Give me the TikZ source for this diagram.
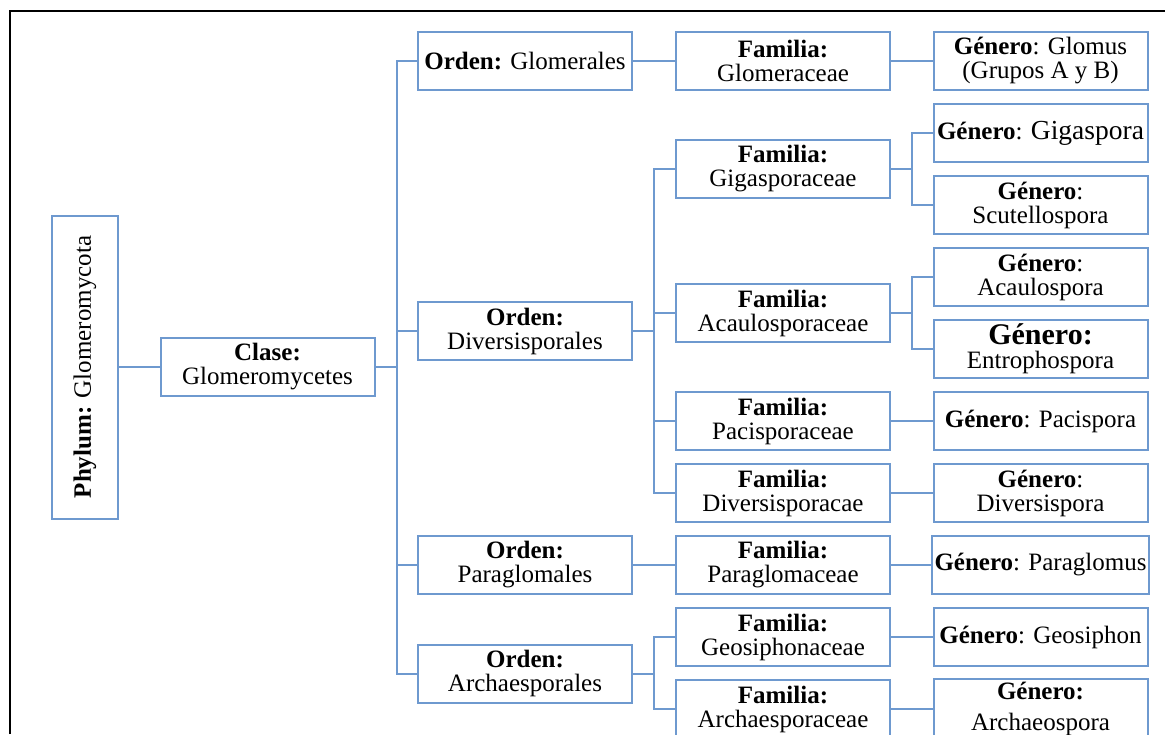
\documentclass[tikz,border=0pt]{standalone}
\usepackage{fontspec}
\setmainfont{Liberation Serif}
\definecolor{smBlue}{HTML}{6E99CF}
\usetikzlibrary{positioning}

\begin{document}
\begin{tikzpicture}[x=0.4pt, y=-0.4pt,
  box/.style={draw=smBlue, line width=0.8pt, minimum width=85.6pt, minimum height=23.2pt, align=center, inner sep=1pt, font=\fontsize{10}{9.6}\selectfont},
  link/.style={draw=smBlue, line width=0.8pt}
]
  \useasboundingbox (0,0) rectangle (1165,734);
  \clip (0,0) rectangle (1165,734);
  \draw[line width=0.8pt] (10,734) -- (10,10.5) -- (1165,10.5);

  \node[box, rotate=90, minimum width=121.2pt, minimum height=26.4pt] (phylum) at (85,367) {\textbf{Phylum:} Glomeromycota};
  \node[box] (clase) at (267.5,367) {\textbf{Clase:}\\Glomeromycetes};

  \node[box] (oGlom) at (525,61) {\textbf{Orden:} Glomerales};
  \node[box] (oDiv) at (525,331) {\textbf{Orden:}\\Diversisporales};
  \node[box] (oPara) at (525,565) {\textbf{Orden:}\\Paraglomales};
  \node[box] (oArch) at (525,673.5) {\textbf{Orden:}\\Archaesporales};

  \node[box] (fGlom) at (783,61) {\textbf{Familia:}\\Glomeraceae};
  \node[box] (fGiga) at (783,169) {\textbf{Familia:}\\Gigasporaceae};
  \node[box] (fAcau) at (783,313) {\textbf{Familia:}\\Acaulosporaceae};
  \node[box] (fPaci) at (783,421) {\textbf{Familia:}\\Pacisporaceae};
  \node[box] (fDiv) at (783,493) {\textbf{Familia:}\\Diversisporacae};
  \node[box] (fPara) at (783,565) {\textbf{Familia:}\\Paraglomaceae};
  \node[box] (fGeo) at (783,637) {\textbf{Familia:}\\Geosiphonaceae};
  \node[box] (fArch) at (783,709) {\textbf{Familia:}\\Archaesporaceae};

  \node[box] (gGlom) at (1040.5,61) {\textbf{Género}: Glomus\\(Grupos A y B)};
  \node[box] (gGiga) at (1040.5,133) {\textbf{Género}: {\fontsize{11}{11}\selectfont Gigaspora}};
  \node[box] (gScut) at (1040.5,205) {\textbf{Género}:\\Scutellospora};
  \node[box] (gAcau) at (1040.5,277) {\textbf{Género}:\\Acaulospora};
  \node[box] (gEntr) at (1040.5,349) {{\fontsize{12}{12}\selectfont\textbf{Género:}}\\Entrophospora};
  \node[box] (gPaci) at (1040.5,421) {\textbf{Género}: Pacispora};
  \node[box] (gDiv) at (1040.5,493) {\textbf{Género}:\\Diversispora};
  \node[box] (gPara) at (1040.5,565) {\textbf{Género}: Paraglomus};
  \node[box] (gGeo) at (1040.5,637) {\textbf{Género}: Geosiphon};
  \node[box] (gArch) at (1040.5,709) {\textbf{Género:}\\[3pt]Archaeospora};

  \coordinate (jc) at (397,367);
  \coordinate (jd) at (654,331);
  \coordinate (ja) at (654,673.5);
  \coordinate (jg) at (912,169);
  \coordinate (jac) at (912,313);

  \draw[link] (phylum) -- (clase);
  \draw[link] (clase) -- (jc);
  \foreach \o in {oGlom,oDiv,oPara,oArch}
    \draw[link] (\o.west) -| (jc);
  \draw[link] (oDiv) -- (jd);
  \foreach \f in {fGiga,fAcau,fPaci,fDiv}
    \draw[link] (\f.west) -| (jd);
  \draw[link] (oArch) -- (ja);
  \foreach \f in {fGeo,fArch}
    \draw[link] (\f.west) -| (ja);
  \draw[link] (oGlom) -- (fGlom);
  \draw[link] (oPara) -- (fPara);
  \draw[link] (fGlom) -- (gGlom);
  \draw[link] (fGiga) -- (jg);
  \foreach \g in {gGiga,gScut}
    \draw[link] (\g.west) -| (jg);
  \draw[link] (fAcau) -- (jac);
  \foreach \g in {gAcau,gEntr}
    \draw[link] (\g.west) -| (jac);
  \draw[link] (fPaci) -- (gPaci);
  \draw[link] (fDiv) -- (gDiv);
  \draw[link] (fPara) -- (gPara);
  \draw[link] (fGeo) -- (gGeo);
  \draw[link] (fArch) -- (gArch);
\end{tikzpicture}
\end{document}
